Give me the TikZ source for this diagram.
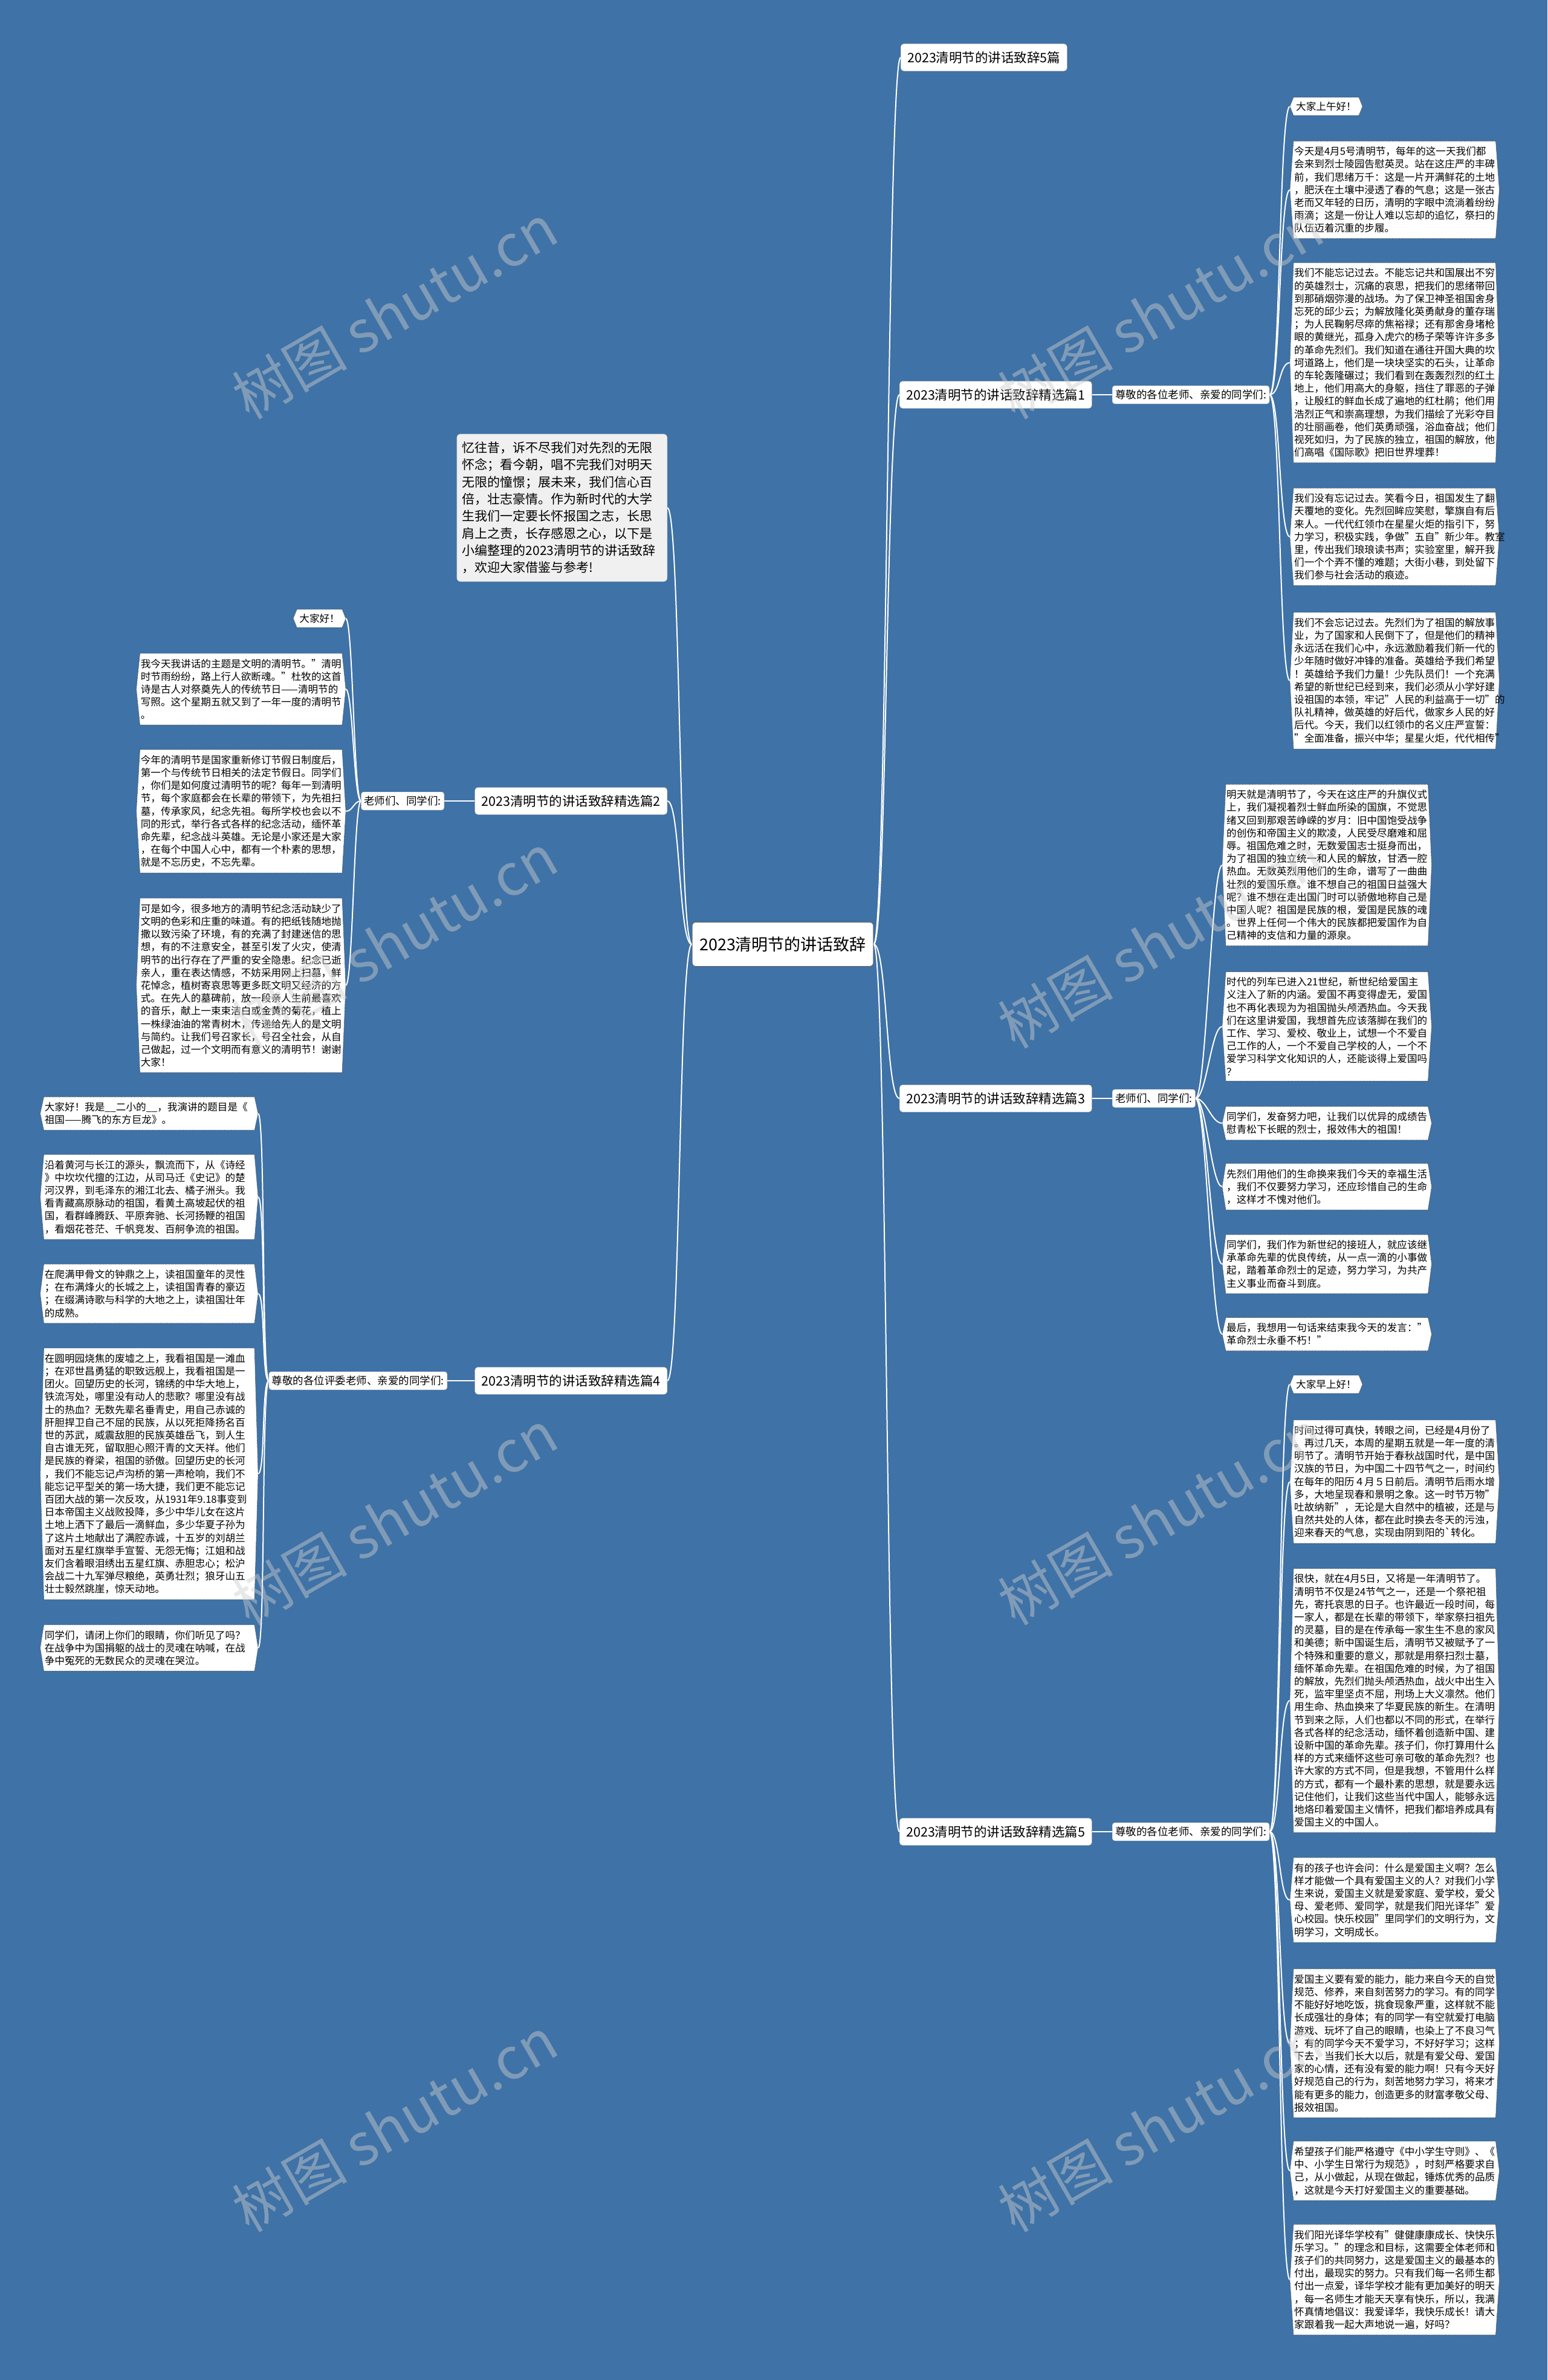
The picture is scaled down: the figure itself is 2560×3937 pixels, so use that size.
\documentclass[tikz,border=0pt]{standalone}
\usepackage{fontspec}
\setmainfont{Noto Sans CJK SC}

\definecolor{mapblue}{RGB}{63,114,166}
\definecolor{markgray}{RGB}{205,205,205}
\newcommand{\leaffont}{\fontsize{16.6}{21.2}\selectfont}

\pgfdeclarelayer{bg}
\pgfdeclarelayer{boxes}
\pgfsetlayers{bg,boxes,main}

\begin{document}
\begin{tikzpicture}[x=1pt, y=-1pt,
    rootnode/.style={draw=black!60, line width=1pt, fill=white, rounded corners=6pt,
      font=\fontsize{27}{31}\selectfont, minimum height=73pt, inner xsep=12pt},
    topicnode/.style={draw=black!35, fill=white, rounded corners=5pt,
      font=\fontsize{21.5}{25}\selectfont, minimum height=45pt, inner xsep=11pt},
    greetnode/.style={draw=black!35, fill=white, rounded corners=4pt, font=\fontsize{17.5}{21}\selectfont,
      minimum height=30pt, inner xsep=5pt, inner ysep=2pt},
    intronode/.style={fill=black!6, draw=black!25, rounded corners=6pt, text width=330pt,
      align=left, font=\fontsize{21}{28.3}\selectfont, inner xsep=9pt, inner ysep=13pt},
    leafnode/.style={font=\leaffont, text width=332pt, align=left, inner xsep=7pt, inner ysep=9pt},
    leafwide/.style={leafnode, text width=346pt},
    leafshort/.style={font=\leaffont, inner xsep=10pt, inner ysep=7pt},
    hexbox/.style={fill=white, draw=black!80, densely dotted, line width=0.7pt},
    linkline/.style={draw=white, line width=2pt},
    wmark/.style={rotate=30, text=markgray, opacity=0.45, font=\fontsize{95}{95}\selectfont}]

  \useasboundingbox (0,0) rectangle (2560,3937);

  % centre and topics
  \node[rootnode] (root) at (1295,1562) {2023清明节的讲话致辞};
  \node[intronode, anchor=east] (intro) at (1104,840) {忆往昔，诉不尽我们对先烈的无限\\怀念；看今朝，唱不完我们对明天\\无限的憧憬；展未来，我们信心百\\倍，壮志豪情。作为新时代的大学\\生我们一定要长怀报国之志，长思\\肩上之责，长存感恩之心，以下是\\小编整理的2023清明节的讲话致辞\\，欢迎大家借鉴与参考!};
  \node[topicnode, anchor=west] (t0) at (1490,95) {2023清明节的讲话致辞5篇};
  \node[topicnode, anchor=west] (t1) at (1488,653) {2023清明节的讲话致辞精选篇1};
  \node[topicnode, anchor=east] (t2) at (1104,1325) {2023清明节的讲话致辞精选篇2};
  \node[topicnode, anchor=west] (t3) at (1488,1817) {2023清明节的讲话致辞精选篇3};
  \node[topicnode, anchor=east] (t4) at (1104,2284) {2023清明节的讲话致辞精选篇4};
  \node[topicnode, anchor=west] (t5) at (1488,3030) {2023清明节的讲话致辞精选篇5};

  % greetings
  \node[greetnode, anchor=west] (g1) at (1840,653) {尊敬的各位老师、亲爱的同学们:};
  \node[greetnode, anchor=east] (g2) at (735,1325) {老师们、同学们:};
  \node[greetnode, anchor=west] (g3) at (1840,1817) {老师们、同学们:};
  \node[greetnode, anchor=east] (g4) at (740,2284) {尊敬的各位评委老师、亲爱的同学们:};
  \node[greetnode, anchor=west] (g5) at (1840,3030) {尊敬的各位老师、亲爱的同学们:};

  % speech 1
  \node[leafshort, anchor=west] (r1a) at (2134,176) {大家上午好！};
  \node[leafnode, anchor=west] (r1b) at (2134,314) {今天是4月5号清明节，每年的这一天我们都\\会来到烈士陵园告慰英灵。站在这庄严的丰碑\\前，我们思绪万千：这是一片开满鲜花的土地\\，肥沃在土壤中浸透了春的气息；这是一张古\\老而又年轻的日历，清明的字眼中流淌着纷纷\\雨滴；这是一份让人难以忘却的追忆，祭扫的\\队伍迈着沉重的步履。};
  \node[leafnode, anchor=west] (r1c) at (2134,600) {我们不能忘记过去。不能忘记共和国展出不穷\\的英雄烈士，沉痛的哀思，把我们的思绪带回\\到那硝烟弥漫的战场。为了保卫神圣祖国舍身\\忘死的邱少云；为解放隆化英勇献身的董存瑞\\；为人民鞠躬尽瘁的焦裕禄；还有那舍身堵枪\\眼的黄继光，孤身入虎穴的杨子荣等许许多多\\的革命先烈们。我们知道在通往开国大典的坎\\坷道路上，他们是一块块坚实的石头，让革命\\的车轮轰隆碾过；我们看到在轰轰烈烈的红土\\地上，他们用高大的身躯，挡住了罪恶的子弹\\，让殷红的鲜血长成了遍地的红杜鹃；他们用\\浩烈正气和崇高理想，为我们描绘了光彩夺目\\的壮丽画卷，他们英勇顽强，浴血奋战；他们\\视死如归，为了民族的独立，祖国的解放，他\\们高唱《国际歌》把旧世界埋葬！};
  \node[leafnode, anchor=west] (r1d) at (2134,888) {我们没有忘记过去。笑看今日，祖国发生了翻\\天覆地的变化。先烈回眸应笑慰，擎旗自有后\\来人。一代代红领巾在星星火炬的指引下，努\\力学习，积极实践，争做"五自"新少年。教室\\里，传出我们琅琅读书声；实验室里，解开我\\们一个个弄不懂的难题；大街小巷，到处留下\\我们参与社会活动的痕迹。};
  \node[leafnode, anchor=west] (r1e) at (2134,1126) {我们不会忘记过去。先烈们为了祖国的解放事\\业，为了国家和人民倒下了，但是他们的精神\\永远活在我们心中，永远激励着我们新一代的\\少年随时做好冲锋的准备。英雄给予我们希望\\！英雄给予我们力量！少先队员们！一个充满\\希望的新世纪已经到来，我们必须从小学好建\\设祖国的本领，牢记"人民的利益高于一切"的\\队礼精神，做英雄的好后代，做家乡人民的好\\后代。今天，我们以红领巾的名义庄严宣誓：\\"全面准备，振兴中华；星星火炬，代代相传"};

  % speech 2
  \node[leafshort, anchor=east] (l2a) at (572,1023) {大家好！};
  \node[leafnode, anchor=east] (l2b) at (572,1140) {我今天我讲话的主题是文明的清明节。"清明\\时节雨纷纷，路上行人欲断魂。"杜牧的这首\\诗是古人对祭奠先人的传统节日——清明节的\\写照。这个星期五就又到了一年一度的清明节\\。};
  \node[leafnode, anchor=east] (l2c) at (572,1342) {今年的清明节是国家重新修订节假日制度后，\\第一个与传统节日相关的法定节假日。同学们\\，你们是如何度过清明节的呢？每年一到清明\\节，每个家庭都会在长辈的带领下，为先祖扫\\墓，传承家风，纪念先祖。每所学校也会以不\\同的形式，举行各式各样的纪念活动，缅怀革\\命先辈，纪念战斗英雄。无论是小家还是大家\\，在每个中国人心中，都有一个朴素的思想，\\就是不忘历史，不忘先辈。};
  \node[leafnode, anchor=east] (l2d) at (572,1630) {可是如今，很多地方的清明节纪念活动缺少了\\文明的色彩和庄重的味道。有的把纸钱随地抛\\撒以致污染了环境，有的充满了封建迷信的思\\想，有的不注意安全，甚至引发了火灾，使清\\明节的出行存在了严重的安全隐患。纪念已逝\\亲人，重在表达情感，不妨采用网上扫墓，鲜\\花悼念，植树寄哀思等更多既文明又经济的方\\式。在先人的墓碑前，放一段亲人生前最喜欢\\的音乐，献上一束束洁白或金黄的菊花，植上\\一株绿油油的常青树木，传递给先人的是文明\\与简约。让我们号召家长，号召全社会，从自\\己做起，过一个文明而有意义的清明节！谢谢\\大家！};

  % speech 3
  \node[leafnode, anchor=west] (r3a) at (2022,1431) {明天就是清明节了，今天在这庄严的升旗仪式\\上，我们凝视着烈士鲜血所染的国旗，不觉思\\绪又回到那艰苦峥嵘的岁月：旧中国饱受战争\\的创伤和帝国主义的欺凌，人民受尽磨难和屈\\辱。祖国危难之时，无数爱国志士挺身而出，\\为了祖国的独立统一和人民的解放，甘洒一腔\\热血。无数英烈用他们的生命，谱写了一曲曲\\壮烈的爱国乐章。谁不想自己的祖国日益强大\\呢？谁不想在走出国门时可以骄傲地称自己是\\中国人呢？祖国是民族的根，爱国是民族的魂\\。世界上任何一个伟大的民族都把爱国作为自\\己精神的支信和力量的源泉。};
  \node[leafnode, anchor=west] (r3b) at (2022,1698) {时代的列车已进入21世纪，新世纪给爱国主\\义注入了新的内涵。爱国不再变得虚无，爱国\\也不再化表现为为祖国抛头颅洒热血。今天我\\们在这里讲爱国，我想首先应该落脚在我们的\\工作、学习、爱校、敬业上，试想一个不爱自\\己工作的人，一个不爱自己学校的人，一个不\\爱学习科学文化知识的人，还能谈得上爱国吗\\？};
  \node[leafnode, anchor=west] (r3c) at (2022,1858) {同学们，发奋努力吧，让我们以优异的成绩告\\慰青松下长眠的烈士，报效伟大的祖国！};
  \node[leafnode, anchor=west] (r3d) at (2022,1963) {先烈们用他们的生命换来我们今天的幸福生活\\，我们不仅要努力学习，还应珍惜自己的生命\\，这样才不愧对他们。};
  \node[leafnode, anchor=west] (r3e) at (2022,2091) {同学们，我们作为新世纪的接班人，就应该继\\承革命先辈的优良传统，从一点一滴的小事做\\起，踏着革命烈士的足迹，努力学习，为共产\\主义事业而奋斗到底。};
  \node[leafnode, anchor=west] (r3f) at (2022,2207) {最后，我想用一句话来结束我今天的发言："\\革命烈士永垂不朽！"};

  % speech 4
  \node[leafwide, anchor=east] (l4a) at (427,1842) {大家好！我是\_\_二小的\_\_，我演讲的题目是《\\祖国——腾飞的东方巨龙》。};
  \node[leafwide, anchor=east] (l4b) at (427,1980) {沿着黄河与长江的源头，飘流而下，从《诗经\\》中坎坎代擅的江边，从司马迁《史记》的楚\\河汉界，到毛泽东的湘江北去、橘子洲头。我\\看青藏高原脉动的祖国，看黄土高坡起伏的祖\\国，看群峰腾跃、平原奔驰、长河扬鞭的祖国\\，看烟花苍茫、千帆竞发、百舸争流的祖国。};
  \node[leafwide, anchor=east] (l4c) at (427,2140) {在爬满甲骨文的钟鼎之上，读祖国童年的灵性\\；在布满烽火的长城之上，读祖国青春的豪迈\\；在缀满诗歌与科学的大地之上，读祖国壮年\\的成熟。};
  \node[leafwide, anchor=east] (l4d) at (427,2438) {在圆明园烧焦的废墟之上，我看祖国是一滩血\\；在邓世昌勇猛的职致远舰上，我看祖国是一\\团火。回望历史的长河，锦绣的中华大地上，\\铁流泻处，哪里没有动人的悲歌？哪里没有战\\士的热血？无数先辈名垂青史，用自己赤诚的\\肝胆捍卫自己不屈的民族，从以死拒降扬名百\\世的苏武，威震敌胆的民族英雄岳飞，到人生\\自古谁无死，留取胆心照汗青的文天祥。他们\\是民族的脊梁，祖国的骄傲。回望历史的长河\\，我们不能忘记卢沟桥的第一声枪响，我们不\\能忘记平型关的第一场大捷，我们更不能忘记\\百团大战的第一次反攻，从1931年9.18事变到\\日本帝国主义战败投降，多少中华儿女在这片\\土地上洒下了最后一滴鲜血，多少华夏子孙为\\了这片土地献出了满腔赤诚，十五岁的刘胡兰\\面对五星红旗举手宣誓、无怨无悔；江姐和战\\友们含着眼泪绣出五星红旗、赤胆忠心；松沪\\会战二十九军弹尽粮绝，英勇壮烈；狼牙山五\\壮士毅然跳崖，惊天动地。};
  \node[leafwide, anchor=east] (l4e) at (427,2726) {同学们，请闭上你们的眼睛，你们听见了吗？\\在战争中为国捐躯的战士的灵魂在呐喊，在战\\争中冤死的无数民众的灵魂在哭泣。};

  % speech 5
  \node[leafshort, anchor=west] (r5a) at (2134,2290) {大家早上好！};
  \node[leafnode, anchor=west] (r5b) at (2134,2451) {时间过得可真快，转眼之间，已经是4月份了\\。再过几天，本周的星期五就是一年一度的清\\明节了。清明节开始于春秋战国时代，是中国\\汉族的节日，为中国二十四节气之一，时间约\\在每年的阳历４月５日前后。清明节后雨水增\\多，大地呈现春和景明之象。这一时节万物"\\吐故纳新"，无论是大自然中的植被，还是与\\自然共处的人体，都在此时换去冬天的污浊，\\迎来春天的气息，实现由阴到阳的\textasciigrave 转化。};
  \node[leafnode, anchor=west] (r5c) at (2134,2813) {很快，就在4月5日，又将是一年清明节了。\\清明节不仅是24节气之一，还是一个祭祀祖\\先，寄托哀思的日子。也许最近一段时间，每\\一家人，都是在长辈的带领下，举家祭扫祖先\\的灵墓，目的是在传承每一家生生不息的家风\\和美德；新中国诞生后，清明节又被赋予了一\\个特殊和重要的意义，那就是用祭扫烈士墓，\\缅怀革命先辈。在祖国危难的时候，为了祖国\\的解放，先烈们抛头颅洒热血，战火中出生入\\死，监牢里坚贞不屈，刑场上大义凛然。他们\\用生命、热血换来了华夏民族的新生。在清明\\节到来之际，人们也都以不同的形式，在举行\\各式各样的纪念活动，缅怀着创造新中国、建\\设新中国的革命先辈。孩子们，你打算用什么\\样的方式来缅怀这些可亲可敬的革命先烈？也\\许大家的方式不同，但是我想，不管用什么样\\的方式，都有一个最朴素的思想，就是要永远\\记住他们，让我们这些当代中国人，能够永远\\地烙印着爱国主义情怀，把我们都培养成具有\\爱国主义的中国人。};
  \node[leafnode, anchor=west] (r5d) at (2134,3143) {有的孩子也许会问：什么是爱国主义啊？怎么\\样才能做一个具有爱国主义的人？对我们小学\\生来说，爱国主义就是爱家庭、爱学校，爱父\\母、爱老师、爱同学，就是我们阳光译华"爱\\心校园。快乐校园"里同学们的文明行为，文\\明学习，文明成长。};
  \node[leafnode, anchor=west] (r5e) at (2134,3380) {爱国主义要有爱的能力，能力来自今天的自觉\\规范、修养，来自刻苦努力的学习。有的同学\\不能好好地吃饭，挑食现象严重，这样就不能\\长成强壮的身体；有的同学一有空就爱打电脑\\游戏、玩坏了自己的眼睛，也染上了不良习气\\；有的同学今天不爱学习，不好好学习；这样\\下去，当我们长大以后，就是有爱父母、爱国\\家的心情，还有没有爱的能力啊！只有今天好\\好规范自己的行为，刻苦地努力学习，将来才\\能有更多的能力，创造更多的财富孝敬父母、\\报效祖国。};
  \node[leafnode, anchor=west] (r5f) at (2134,3591) {希望孩子们能严格遵守《中小学生守则》、《\\中、小学生日常行为规范》，时刻严格要求自\\己，从小做起，从现在做起，锤炼优秀的品质\\，这就是今天打好爱国主义的重要基础。};
  \node[leafnode, anchor=west] (r5g) at (2134,3771) {我们阳光译华学校有"健健康康成长、快快乐\\乐学习。"的理念和目标，这需要全体老师和\\孩子们的共同努力，这是爱国主义的最基本的\\付出，最现实的努力。只有我们每一名师生都\\付出一点爱，译华学校才能有更加美好的明天\\，每一名师生才能天天享有快乐，所以，我满\\怀真情地倡议：我爱译华，我快乐成长！请大\\家跟着我一起大声地说一遍，好吗？};

  % background and connectors
  \begin{pgfonlayer}{bg}
    \fill[mapblue] (0,0) rectangle (2560,3937);
    \foreach \tp in {t0,t1,t3,t5}
      \draw[linkline] (root.east) .. controls +(22,0) and +(-22,0) .. (\tp.west);
    \foreach \tp in {intro,t2,t4}
      \draw[linkline] (root.west) .. controls +(-22,0) and +(22,0) .. (\tp.east);
    \draw[linkline] (t1.east) -- (g1.west);
    \draw[linkline] (t3.east) -- (g3.west);
    \draw[linkline] (t5.east) -- (g5.west);
    \draw[linkline] (t2.west) -- (g2.east);
    \draw[linkline] (t4.west) -- (g4.east);
    \foreach \lf in {r1a,r1b,r1c,r1d,r1e}
      \draw[linkline] (g1.east) .. controls +(18,0) and +(-18,0) .. (\lf.west);
    \foreach \lf in {r3a,r3b,r3c,r3d,r3e,r3f}
      \draw[linkline] (g3.east) .. controls +(18,0) and +(-18,0) .. (\lf.west);
    \foreach \lf in {r5a,r5b,r5c,r5d,r5e,r5f,r5g}
      \draw[linkline] (g5.east) .. controls +(18,0) and +(-18,0) .. (\lf.west);
    \foreach \lf in {l2a,l2b,l2c,l2d}
      \draw[linkline] (g2.west) .. controls +(-12,0) and +(12,0) .. (\lf.east);
    \foreach \lf in {l4a,l4b,l4c,l4d,l4e}
      \draw[linkline] (g4.west) .. controls +(-12,0) and +(12,0) .. (\lf.east);
  \end{pgfonlayer}

  % dotted hexagon boxes behind the speech texts
  \begin{pgfonlayer}{boxes}
    \foreach \lf in {r1a,r1b,r1c,r1d,r1e,l2a,l2b,l2c,l2d,r3a,r3b,r3c,r3d,r3e,r3f,
                     l4a,l4b,l4c,l4d,l4e,r5a,r5b,r5c,r5d,r5e,r5f,r5g}
      \draw[hexbox] ([xshift=6pt]\lf.north west) -- ([xshift=-6pt]\lf.north east) -- (\lf.east)
        -- ([xshift=-6pt]\lf.south east) -- ([xshift=6pt]\lf.south west) -- (\lf.west) -- cycle;
  \end{pgfonlayer}

  % watermark
  \foreach \wx/\wy [count=\wi] in {653/515,1920/515,653/1556,1920/1556,653/2510,1920/2510,653/3514,1920/3514}
    \node[wmark] (wm\wi) at (\wx,\wy) {树图 shutu.cn};
\end{tikzpicture}
\end{document}
